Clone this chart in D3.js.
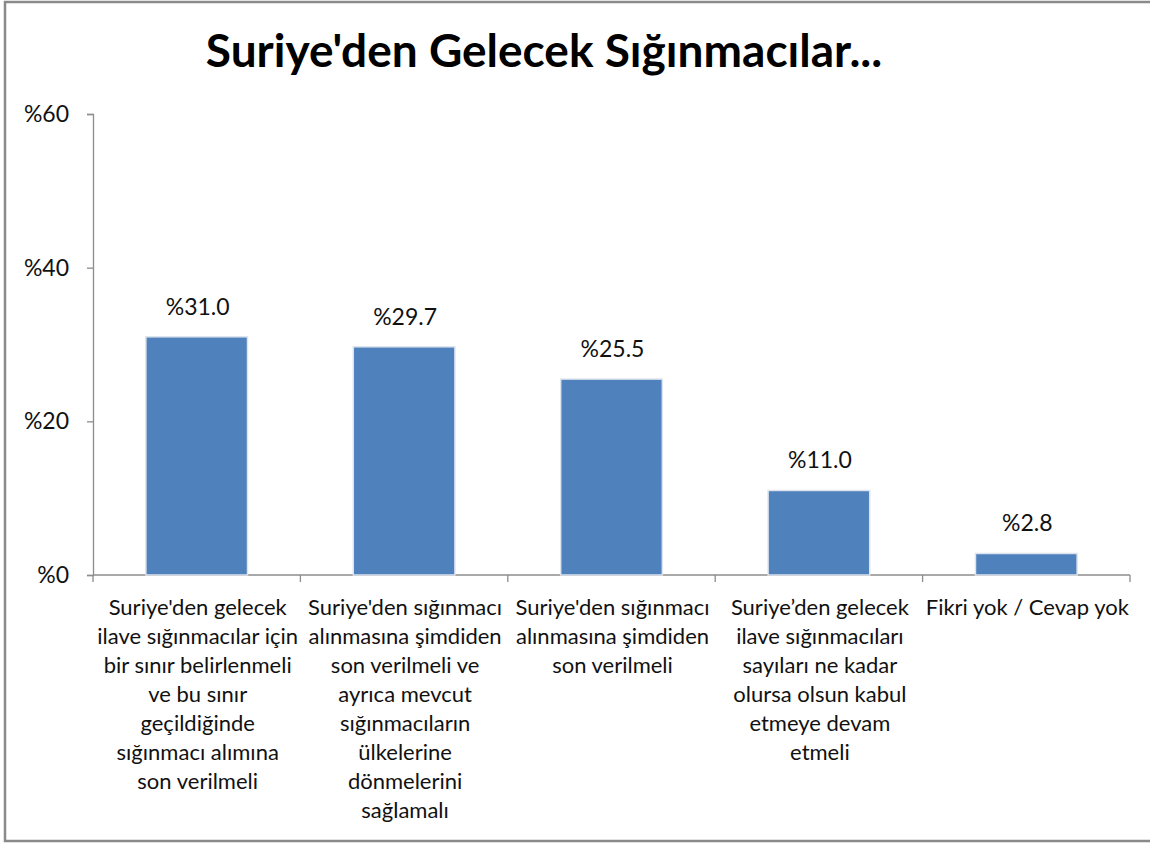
<!DOCTYPE html>
<html>
<head>
<meta charset="utf-8">
<script src="https://cdn.jsdelivr.net/npm/d3@7"></script>
<style>
  body { margin: 0; background: #fff; }
  text { font-family: Lato, "Open Sans", sans-serif; fill: #111; }
</style>
</head>
<body>
<script>
var categories = [
  ["Suriye'den gelecek", "ilave sığınmacılar için", "bir sınır belirlenmeli", "ve bu sınır", "geçildiğinde", "sığınmacı alımına", "son verilmeli"],
  ["Suriye'den sığınmacı", "alınmasına şimdiden", "son verilmeli ve", "ayrıca mevcut", "sığınmacıların", "ülkelerine", "dönmelerini", "sağlamalı"],
  ["Suriye'den sığınmacı", "alınmasına şimdiden", "son verilmeli"],
  ["Suriye’den gelecek", "ilave sığınmacıları", "sayıları ne kadar", "olursa olsun kabul", "etmeye devam", "etmeli"],
  ["Fikri yok / Cevap yok"]
];
var values = [31.0, 29.7, 25.5, 11.0, 2.8];
var yTicks = [0, 20, 40, 60];

var width = 1150,
    height = 843;

var svg = d3.select("body").append("svg")
    .attr("width", width)
    .attr("height", height);

// frame (left, top, bottom edges only)
svg.append("path")
    .attr("d", "M" + width + ",2H5V841H" + width)
    .attr("fill", "none")
    .attr("stroke", "#8a8a8a")
    .attr("stroke-width", 2.5);

svg.append("text")
    .attr("x", 544)
    .attr("y", 67)
    .attr("text-anchor", "middle")
    .style("font-size", "46px")
    .style("font-weight", "bold")
    .style("fill", "#000")
    .text("Suriye'den Gelecek Sığınmacılar...");

var x = d3.scaleBand()
    .domain(d3.range(values.length))
    .range([93, 1130])
    .paddingInner(0)
    .paddingOuter(0);

var y = d3.scaleLinear()
    .domain([0, 60])
    .range([575, 114]);

// y axis
var yAxis = svg.append("g")
    .attr("transform", "translate(93,0)")
    .call(d3.axisLeft(y).tickValues(yTicks).tickSize(6).tickPadding(18)
      .tickFormat(function(d) { return "%" + d; }));
yAxis.select(".domain").attr("stroke", "#8c8c8c").attr("stroke-width", 1.3);
yAxis.selectAll(".tick line").attr("stroke", "#8c8c8c").attr("stroke-width", 1.3);
yAxis.selectAll(".tick text")
    .style("font-size", "23px")
    .style("font-family", "Lato, sans-serif")
    .attr("fill", "#111");

// x axis line and ticks at band boundaries
svg.append("line")
    .attr("x1", 93).attr("x2", 1130)
    .attr("y1", y(0)).attr("y2", y(0))
    .attr("stroke", "#8c8c8c").attr("stroke-width", 1.3);

var bounds = d3.range(values.length + 1).map(function(i) {
  return i < values.length ? x(i) : x(values.length - 1) + x.bandwidth();
});
svg.selectAll(".xtick")
    .data(bounds)
  .enter().append("line")
    .attr("class", "xtick")
    .attr("x1", function(d) { return d; })
    .attr("x2", function(d) { return d; })
    .attr("y1", y(0))
    .attr("y2", y(0) + 7)
    .attr("stroke", "#8c8c8c").attr("stroke-width", 1.3);

// bars
var barW = x.bandwidth() * 0.49;
svg.selectAll(".bar")
    .data(values)
  .enter().append("rect")
    .attr("class", "bar")
    .attr("x", function(d, i) { return x(i) + (x.bandwidth() - barW) / 2; })
    .attr("y", function(d) { return y(d); })
    .attr("width", barW)
    .attr("height", function(d) { return y(0) - y(d); })
    .attr("fill", "#4f81bd")
    .attr("stroke", "#dde4ee")
    .attr("stroke-width", 1.5);

// value labels
svg.selectAll(".val")
    .data(values)
  .enter().append("text")
    .attr("class", "val")
    .attr("x", function(d, i) { return x(i) + x.bandwidth() / 2 + 1; })
    .attr("y", function(d) { return y(d) - 22; })
    .attr("text-anchor", "middle")
    .style("font-size", "23px")
    .text(function(d) { return "%" + d.toFixed(1); });

// category labels
var cat = svg.selectAll(".cat")
    .data(categories)
  .enter().append("text")
    .attr("class", "cat")
    .attr("text-anchor", "middle")
    .style("font-size", "22px");

cat.selectAll("tspan")
    .data(function(d, i) { return d.map(function(s) { return { s: s, i: i }; }); })
  .enter().append("tspan")
    .attr("x", function(d) { return x(d.i) + x.bandwidth() / 2 + 1; })
    .attr("y", function(d, j) { return 615 + j * 29; })
    .text(function(d) { return d.s; });
</script>
</body>
</html>
